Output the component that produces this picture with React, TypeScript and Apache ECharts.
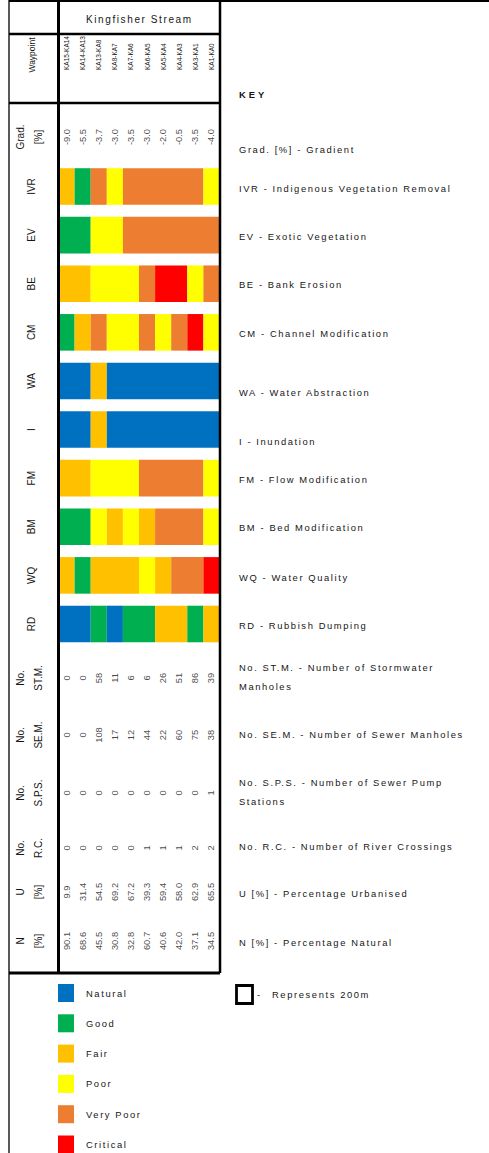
import React, { useEffect, useRef } from "react";
import * as echarts from "echarts";

// ---------- data ----------
const WAYPOINTS = ["KA15-KA14", "KA14-KA13", "KA13-KA8", "KA8-KA7", "KA7-KA6", "KA6-KA5", "KA5-KA4", "KA4-KA3", "KA3-KA1", "KA1-KA0"];
const SEGMENT_LENGTH = [1, 1, 1, 1, 1, 1, 1, 1, 1, 1]; // one block = 200 m

const RATINGS = ["Natural", "Good", "Fair", "Poor", "Very Poor", "Critical"];
const RATING_COLORS = ["#0070C0", "#00B050", "#FFC000", "#FFFF00", "#ED7D31", "#FF0000"];

const CONDITION_ROWS = ["IVR", "EV", "BE", "CM", "WA", "I", "FM", "BM", "WQ", "RD"];
const IVR = ["Fair", "Good", "Very Poor", "Poor", "Very Poor", "Very Poor", "Very Poor", "Very Poor", "Very Poor", "Poor"];
const EV = ["Good", "Good", "Poor", "Poor", "Very Poor", "Very Poor", "Very Poor", "Very Poor", "Very Poor", "Very Poor"];
const BE = ["Fair", "Fair", "Poor", "Poor", "Poor", "Very Poor", "Critical", "Critical", "Poor", "Very Poor"];
const CM = ["Good", "Fair", "Very Poor", "Poor", "Poor", "Very Poor", "Poor", "Very Poor", "Critical", "Poor"];
const WA = ["Natural", "Natural", "Fair", "Natural", "Natural", "Natural", "Natural", "Natural", "Natural", "Natural"];
const INUNDATION = ["Natural", "Natural", "Fair", "Natural", "Natural", "Natural", "Natural", "Natural", "Natural", "Natural"];
const FM = ["Fair", "Fair", "Poor", "Poor", "Poor", "Very Poor", "Very Poor", "Very Poor", "Very Poor", "Poor"];
const BM = ["Good", "Good", "Poor", "Fair", "Poor", "Fair", "Very Poor", "Very Poor", "Very Poor", "Poor"];
const WQ = ["Fair", "Good", "Fair", "Fair", "Fair", "Poor", "Fair", "Very Poor", "Very Poor", "Critical"];
const RD = ["Natural", "Natural", "Good", "Natural", "Good", "Good", "Fair", "Fair", "Good", "Fair"];
const CONDITION_DATA = [IVR, EV, BE, CM, WA, INUNDATION, FM, BM, WQ, RD];

const GRADIENT = [-9.0, -5.5, -3.7, -3.0, -3.5, -3.0, -2.0, -0.5, -3.5, -4.0];
const STORMWATER_MANHOLES = [0, 0, 58, 11, 6, 6, 26, 51, 86, 39];
const SEWER_MANHOLES = [0, 0, 108, 17, 12, 44, 22, 60, 75, 38];
const SEWER_PUMP_STATIONS = [0, 0, 0, 0, 0, 0, 0, 0, 0, 1];
const RIVER_CROSSINGS = [0, 0, 0, 0, 0, 1, 1, 1, 2, 2];
const URBANISED = [9.9, 31.4, 54.5, 69.2, 67.2, 39.3, 59.4, 58.0, 62.9, 65.5];
const NATURAL = [90.1, 68.6, 45.5, 30.8, 32.8, 60.7, 40.6, 42.0, 37.1, 34.5];

const TEXT_ROW_LABELS = ["Grad.\n[%]", "No.\nST.M.", "No.\nSE.M.", "No.\nS.P.S.", "No.\nR.C.", "U\n[%]", "N\n[%]"];
const TEXT_ROW_VALUES = [GRADIENT, STORMWATER_MANHOLES, SEWER_MANHOLES, SEWER_PUMP_STATIONS, RIVER_CROSSINGS, URBANISED, NATURAL];
const TEXT_ROW_DECIMALS = [1, 0, 0, 0, 0, 1, 1];

const KEY_ITEMS = [
  "Grad. [%] - Gradient",
  "IVR - Indigenous Vegetation Removal",
  "EV - Exotic Vegetation",
  "BE - Bank Erosion",
  "CM - Channel Modification",
  "WA - Water Abstraction",
  "I - Inundation",
  "FM - Flow Modification",
  "BM - Bed Modification",
  "WQ - Water Quality",
  "RD - Rubbish Dumping",
  "No. ST.M. - Number of Stormwater\nManholes",
  "No. SE.M. - Number of Sewer Manholes",
  "No. S.P.S. - Number of Sewer Pump\nStations",
  "No. R.C. - Number of River Crossings",
  "U [%] - Percentage Urbanised",
  "N [%] - Percentage Natural",
];

// ---------- layout ----------
const W = 489;
const H = 1153;
const TABLE_LEFT = 58.5;
const TABLE_WIDTH = 161;
const TEXT_ROW_CENTERS = [137, 678, 735, 793, 848, 892, 941];
const KEY_Y = [149, 188, 236, 284, 333, 392, 441, 479, 527, 577, 625, 676.5, 734, 791.5, 846, 893, 942];

const FONT_SPACED = "Liberation Sans";
const FONT_KEY = "Helvetica, Liberation Sans";
const FONT_PLAIN = "Arial";
const INK = "#161616";

const CSS = `
.kchart text[style*="Liberation Sans"]:not([style*="Helvetica"]) { letter-spacing: 1.6px; }
.kchart text[style*="Helvetica"] { letter-spacing: 3px; }
`;

// consecutive blocks of the same rating along a row, so a run is drawn as one bar piece
function ratingRuns(row: string[]) {
  const runs: { rating: string; length: number }[] = [];
  row.forEach((r, j) => {
    const last = runs[runs.length - 1];
    if (last && last.rating === r) last.length += SEGMENT_LENGTH[j];
    else runs.push({ rating: r, length: SEGMENT_LENGTH[j] });
  });
  return runs;
}

function buildOption() {
  const grid: any[] = [];
  const xAxis: any[] = [];
  const yAxis: any[] = [];
  const series: any[] = [];

  const hiddenAxisParts = { axisLine: { show: false }, axisTick: { show: false }, splitLine: { show: false } };
  const rowLabel = (margin: number, fontSize = 10) => ({
    rotate: 90,
    margin,
    fontSize,
    lineHeight: 18,
    fontFamily: FONT_PLAIN,
    color: INK,
  });

  // grid 0: waypoint header row
  grid.push({ left: TABLE_LEFT, width: TABLE_WIDTH, top: 38, height: 34 });
  xAxis.push({
    type: "category",
    gridIndex: 0,
    data: WAYPOINTS,
    position: "bottom",
    ...hiddenAxisParts,
    axisLabel: { show: true, inside: true, rotate: 90, interval: 0, margin: 2, fontSize: 6.5, fontFamily: FONT_PLAIN, color: INK },
  });
  yAxis.push({ type: "category", gridIndex: 0, data: ["Waypoint"], ...hiddenAxisParts, axisLabel: rowLabel(18, 8.5) });

  // grid 1: condition bars
  grid.push({ left: TABLE_LEFT, width: TABLE_WIDTH, top: 162.2, height: 486.1 });
  xAxis.push({
    type: "value",
    gridIndex: 1,
    min: 0,
    max: SEGMENT_LENGTH.reduce((a, b) => a + b, 0),
    show: false,
    splitLine: { show: false },
  });
  yAxis.push({
    type: "category",
    gridIndex: 1,
    data: CONDITION_ROWS,
    inverse: true,
    ...hiddenAxisParts,
    axisLabel: rowLabel(18),
  });
  const runsByRow = CONDITION_DATA.map(ratingRuns);
  const maxRuns = Math.max(...runsByRow.map((r) => r.length));
  for (let k = 0; k < maxRuns; k++) {
    series.push({
      type: "bar",
      name: "run" + k,
      stack: "reach",
      xAxisIndex: 1,
      yAxisIndex: 1,
      barWidth: 36.6,
      silent: true,
      data: runsByRow.map((runs) =>
        runs[k]
          ? { value: runs[k].length, itemStyle: { color: RATING_COLORS[RATINGS.indexOf(runs[k].rating)] } }
          : "-"
      ),
    });
  }
  // legend entries (no data)
  RATINGS.forEach((r, k) => {
    series.push({
      type: "bar",
      name: r,
      stack: "reach",
      xAxisIndex: 1,
      yAxisIndex: 1,
      barWidth: 36.6,
      color: RATING_COLORS[k],
      data: [],
    });
  });

  // text rows
  TEXT_ROW_LABELS.forEach((label, k) => {
    const gi = grid.length;
    grid.push({ left: TABLE_LEFT, width: TABLE_WIDTH, top: TEXT_ROW_CENTERS[k] - 10, height: 20 });
    xAxis.push({ type: "category", gridIndex: gi, data: WAYPOINTS, ...hiddenAxisParts, axisLabel: { show: false } });
    yAxis.push({ type: "category", gridIndex: gi, data: [label], ...hiddenAxisParts, axisLabel: rowLabel(11.5) });
    const dec = TEXT_ROW_DECIMALS[k];
    series.push({
      type: "scatter",
      xAxisIndex: gi,
      yAxisIndex: gi,
      symbolSize: 0,
      silent: true,
      data: TEXT_ROW_VALUES[k].map((v, i) => [i, 0, v]),
      label: {
        show: true,
        position: "inside",
        rotate: 90,
        align: "center",
        verticalAlign: "middle",
        fontSize: 9.3,
        fontFamily: FONT_PLAIN,
        color: INK,
        formatter: (p: any) => Number(p.value[2]).toFixed(dec),
      },
    });
  });

  const line = (x1: number, y1: number, x2: number, y2: number, w: number, c = "#000") => ({
    type: "line",
    z: 100,
    silent: true,
    shape: { x1, y1, x2, y2 },
    style: { stroke: c, lineWidth: w },
  });
  const text = (t: string, x: number, y: number, extra: any = {}) => ({
    type: "text",
    z: 100,
    silent: true,
    x,
    y,
    style: {
      text: t,
      align: "left",
      verticalAlign: "middle",
      fontSize: 9.4,
      fontFamily: FONT_SPACED,
      fill: INK,
      lineHeight: 19,
      ...extra,
    },
  });

  const graphic: any[] = [
    line(9, 0, 9, H, 1.5, "#222"),
    line(9, 1, W, 1, 2),
    line(9, 34, 220, 34, 2.5),
    line(9, 103, 220, 103, 2.5),
    line(9, 973, 220, 973, 3),
    line(TABLE_LEFT, 0, TABLE_LEFT, 973, 3),
    line(220, 0, 220, 973, 2.5),
    text("Kingfisher Stream", 86, 19, { fontSize: 10 }),
    text("KEY", 239, 94, { fontFamily: FONT_KEY, fontWeight: "bold", fontSize: 9.4 }),
    ...KEY_ITEMS.map((t, i) => text(t, 239, KEY_Y[i])),
    { type: "rect", z: 100, silent: true, shape: { x: 236.5, y: 985.5, width: 16, height: 18 }, style: { fill: "none", stroke: "#000", lineWidth: 2.8 } },
    text("-", 257, 994),
    text("Represents 200m", 272, 994),
  ];

  return {
    animation: false,
    backgroundColor: "#ffffff",
    grid,
    xAxis,
    yAxis,
    series,
    legend: {
      data: RATINGS,
      orient: "vertical",
      left: 58,
      top: 984,
      height: 240,
      padding: 0,
      icon: "rect",
      itemWidth: 16,
      itemHeight: 18,
      itemGap: 12.3,
      selectedMode: false,
      textStyle: { fontFamily: FONT_SPACED, fontSize: 9.4, color: INK, padding: [0, 0, 0, 7] },
    },
    graphic,
  };
}

export default function App() {
  const ref = useRef<HTMLDivElement>(null);
  useEffect(() => {
    if (!ref.current) return;
    const chart = echarts.init(ref.current, undefined, { renderer: "svg" });
    chart.setOption(buildOption() as any);
    return () => chart.dispose();
  }, []);
  return (
    <>
      <style>{CSS}</style>
      <div
        ref={ref}
        className="kchart"
        style={{ position: "absolute", left: 0, top: 0, width: W, height: H, background: "#fff" }}
      />
    </>
  );
}
